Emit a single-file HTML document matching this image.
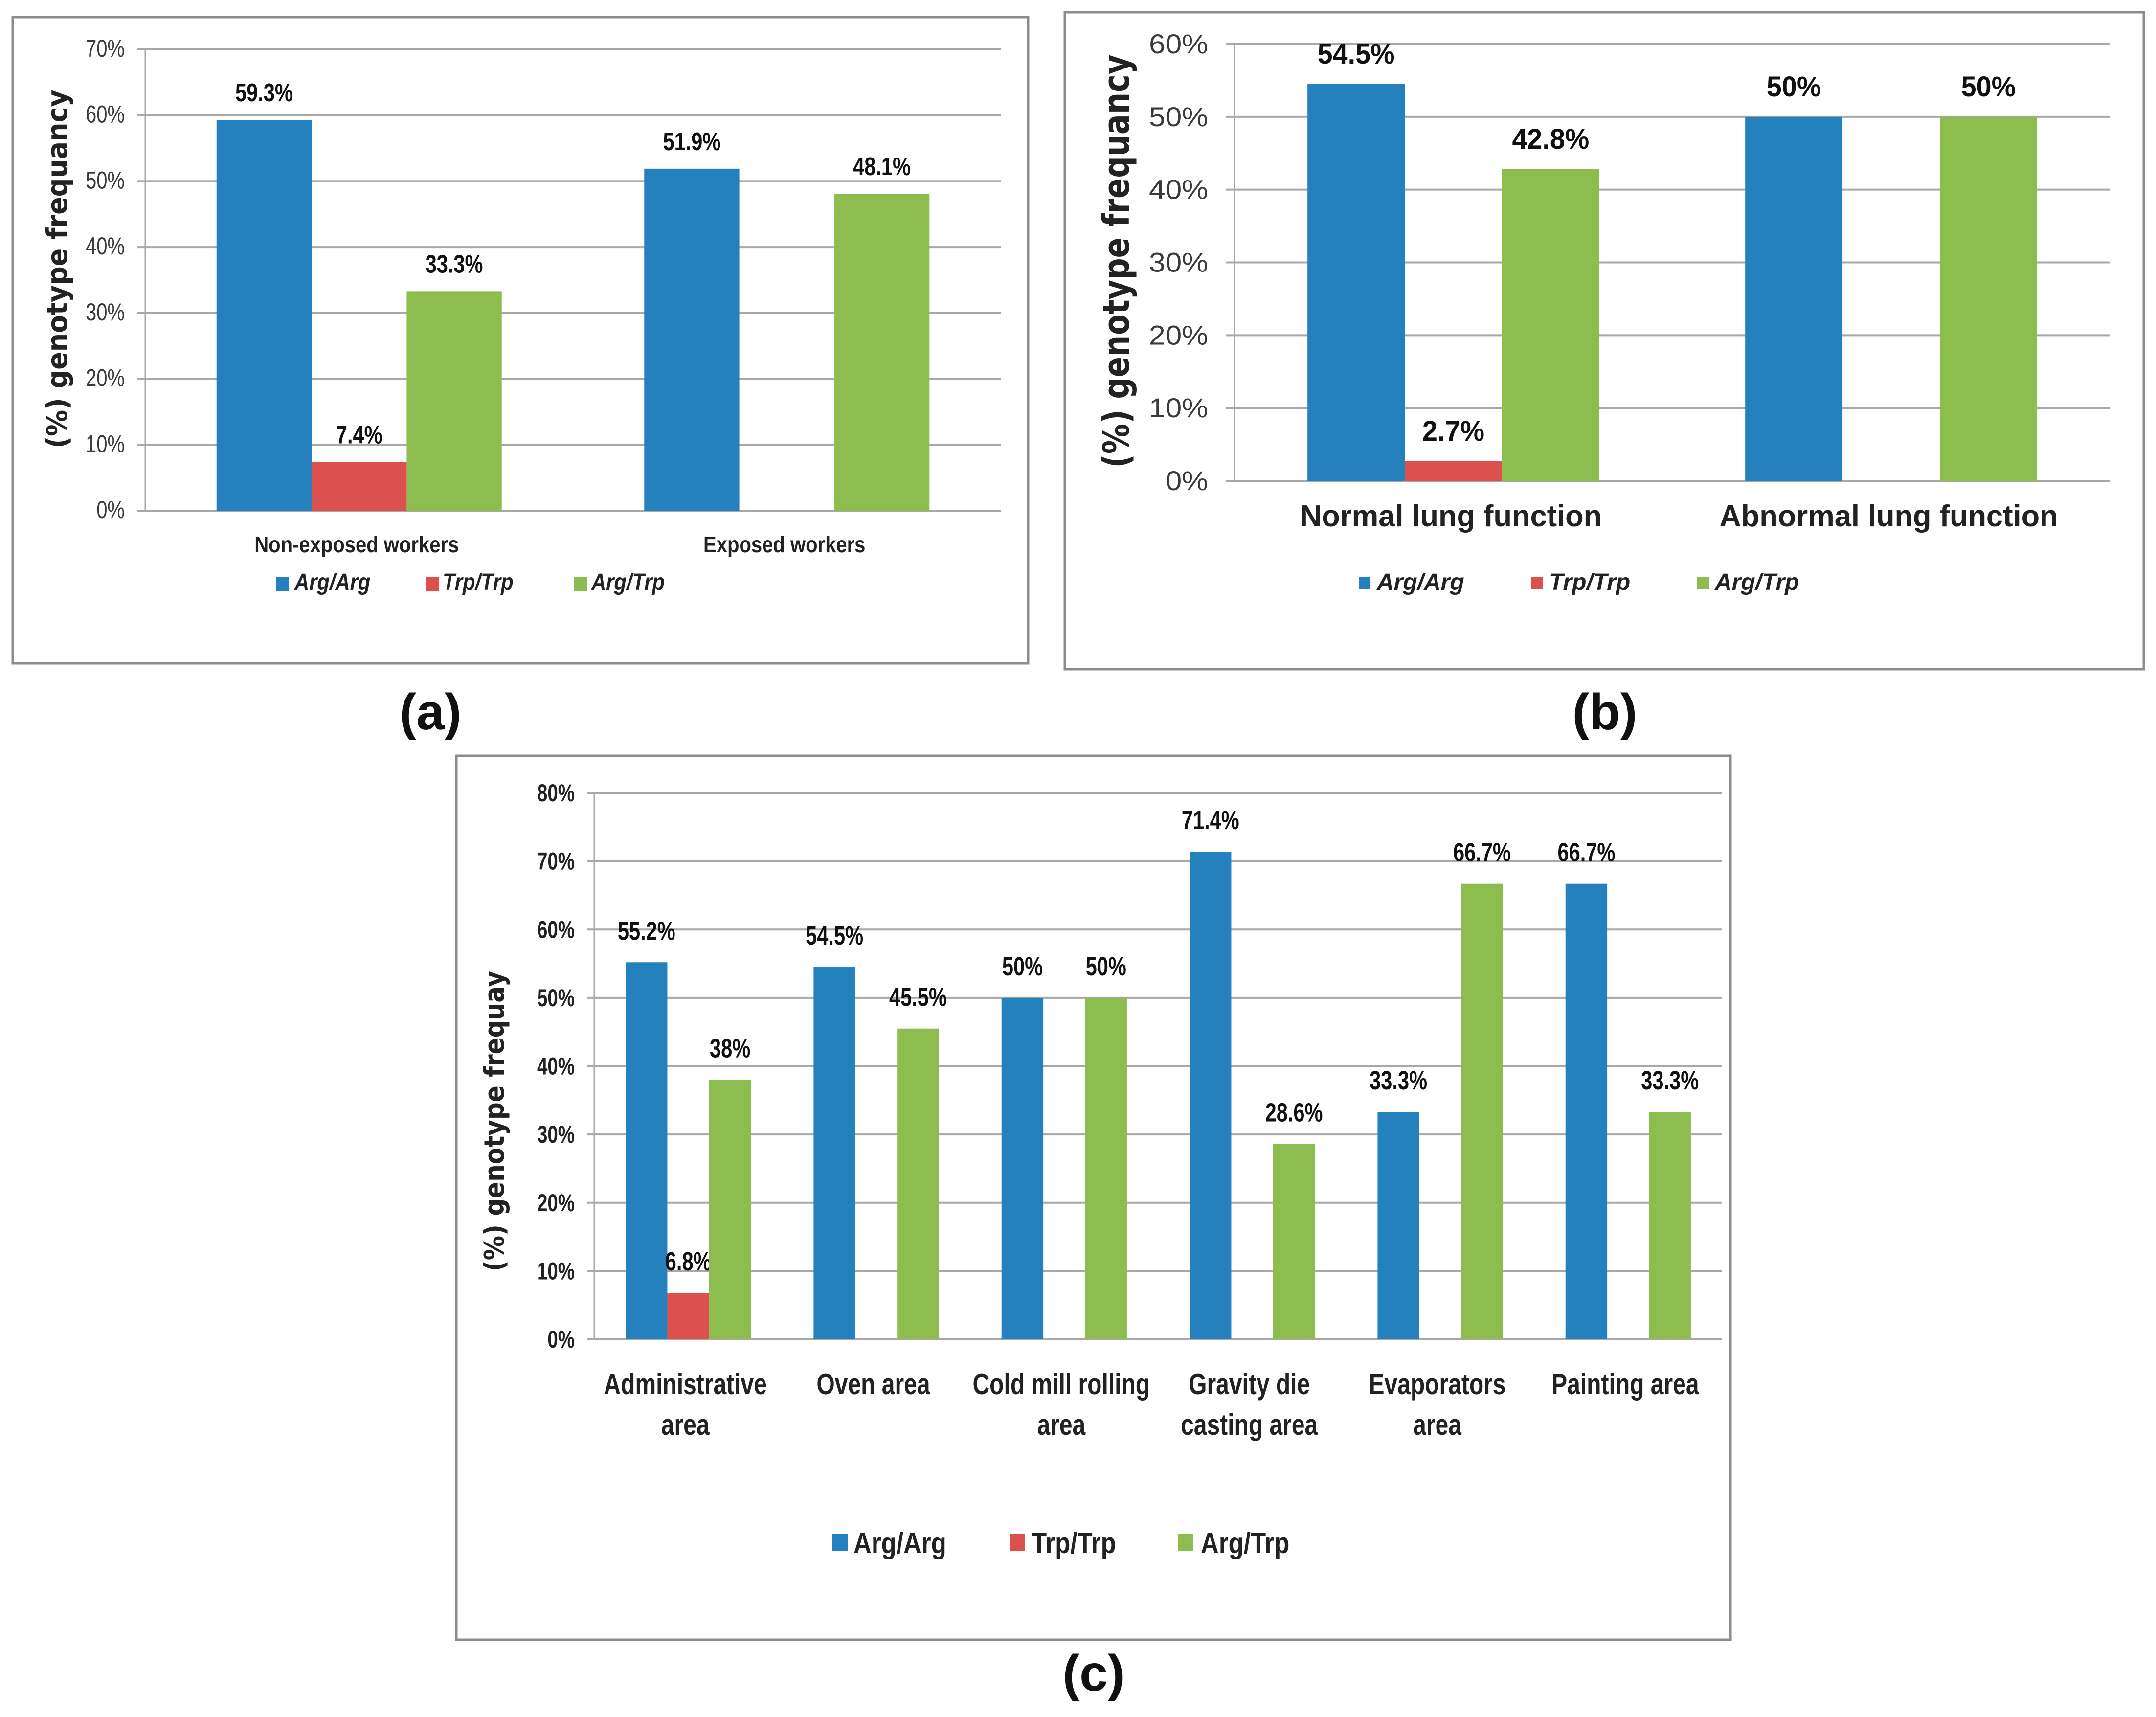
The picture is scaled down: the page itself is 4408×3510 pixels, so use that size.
<!DOCTYPE html>
<html lang="en">
<head>
<meta charset="utf-8">
<title>Genotype frequency charts</title>
<style>
html,body{margin:0;padding:0;background:#fff;}
svg{display:block;font-family:"Liberation Sans",sans-serif;}
</style>
</head>
<body>
<svg id="figure" xmlns="http://www.w3.org/2000/svg" width="4408" height="3510" viewBox="0 0 4408 3510">
  <rect x="0" y="0" width="4408" height="3510" fill="#fff"/>
  <rect x="26" y="35" width="2076" height="1321" fill="#fff" stroke="#8c8c8c" stroke-width="5"/>
  <rect x="2177" y="25" width="2206" height="1343" fill="#fff" stroke="#8c8c8c" stroke-width="5"/>
  <rect x="933" y="1545" width="2605" height="1807" fill="#fff" stroke="#8c8c8c" stroke-width="5"/>
  <g id="panel-a"></g>
  <g id="panel-b"></g>
  <g id="panel-c"></g>
  <text x="880" y="1491" text-anchor="middle" font-size="104" font-weight="700" fill="#111">(a)</text>
  <text x="3281" y="1491" text-anchor="middle" font-size="104" font-weight="700" fill="#111">(b)</text>
  <text x="2236" y="3456" text-anchor="middle" font-size="104" font-weight="700" fill="#111">(c)</text>
</svg>
<script>
const categoriesA = ["Non-exposed workers", "Exposed workers"];
const argArgA = [59.3, 51.9];
const trpTrpA = [7.4, null];
const argTrpA = [33.3, 48.1];
const ticksA = [0, 10, 20, 30, 40, 50, 60, 70];

const categoriesB = ["Normal lung function", "Abnormal lung function"];
const argArgB = [54.5, 50];
const trpTrpB = [2.7, null];
const argTrpB = [42.8, 50];
const ticksB = [0, 10, 20, 30, 40, 50, 60];

const categoriesC = [["Administrative", "area"], ["Oven area"], ["Cold mill rolling", "area"], ["Gravity die", "casting area"], ["Evaporators", "area"], ["Painting area"]];
const argArgC = [55.2, 54.5, 50, 71.4, 33.3, 66.7];
const trpTrpC = [6.8, null, null, null, null, null];
const argTrpC = [38, 45.5, 50, 28.6, 66.7, 33.3];
const ticksC = [0, 10, 20, 30, 40, 50, 60, 70, 80];

const legendNames = ["Arg/Arg", "Trp/Trp", "Arg/Trp"];

const seriesColors = ["#2581bd", "#dc514e", "#8dbc4f"];
const NS = "http://www.w3.org/2000/svg";

function makeEl(parent, tag, attrs) {
  const el = document.createElementNS(NS, tag);
  for (const k in attrs) el.setAttribute(k, attrs[k]);
  parent.appendChild(el);
  return el;
}

function makeText(parent, str, x, y, font) {
  const rot = font.rotate ? " rotate(" + font.rotate + ")" : "";
  const el = makeEl(parent, "text", {
    transform: "translate(" + x + "," + y + ")" + rot + " scale(" + font.sx + ",1)",
    "font-size": font.size,
    "font-weight": font.weight || 400,
    "font-style": font.italic ? "italic" : "normal",
    "font-family": font.family || '"Liberation Sans",sans-serif',
    "text-anchor": font.anchor || "middle",
    fill: font.fill || "#111"
  });
  el.textContent = str;
  return el;
}

function drawPanel(rootId, cats, series, ticks, cfg) {
  const root = document.getElementById(rootId);
  const maxV = ticks[ticks.length - 1];
  const yScale = function (v) { return cfg.y0 - (v / maxV) * (cfg.y0 - cfg.yTop); };
  const catW = (cfg.x1 - cfg.x0) / cats.length;
  const barW = catW / 4.5;
  const xCenter = function (i) { return cfg.x0 + catW * (i + 0.5); };

  ticks.forEach(function (t) {
    const y = yScale(t);
    const grid = makeEl(root, "line", { x1: cfg.tickX, x2: cfg.x1, y1: y, y2: y, stroke: "#a8a8a8", "stroke-width": cfg.gridW });
    
    
    const lab = makeText(root, t + "%", cfg.tickRight, y + cfg.tickDy, cfg.tickFont);
    
    
  });

  const yAxis = makeEl(root, "line", { x1: cfg.x0, x2: cfg.x0, y1: cfg.yTop, y2: cfg.y0, stroke: "#a8a8a8", "stroke-width": 3 });
  
  

  series.forEach(function (vals, s) {
    vals.forEach(function (v, i) {
      if (v === null) return;
      const x = xCenter(i) + (s - 1.5) * barW;
      const top = yScale(v);
      const bar = makeEl(root, "rect", { x: x, y: top, width: barW, height: cfg.y0 - top, fill: seriesColors[s] });
      
      
      const val = makeText(root, v + "%", x + barW / 2, top - cfg.valueDy, cfg.valueFont);
      
      
    });
  });

  cats.forEach(function (c, i) {
    const lines = Array.isArray(c) ? c : [c];
    lines.forEach(function (ln, k) {
      const lab = makeText(root, ln, xCenter(i) + cfg.catDx, cfg.catY + k * cfg.catLine, cfg.catFont);
      
      
    });
  });

  legendNames.forEach(function (name, s) {
    const sw = makeEl(root, "rect", { x: cfg.legendX[s], y: cfg.legendY, width: cfg.swW, height: cfg.swH, fill: seriesColors[s] });
    
    
    const lab = makeText(root, name, cfg.legendTextX[s], cfg.legendBase, cfg.legendFont);
    
    
  });

  const title = makeText(root, cfg.title, cfg.titleX, cfg.titleY, cfg.titleFont);
  
  
}

const dejavu = '"DejaVu Sans",sans-serif';

drawPanel("panel-a", categoriesA, [argArgA, trpTrpA, argTrpA], ticksA, {
  x0: 297, x1: 2046, y0: 1044, yTop: 101, tickX: 281, gridW: 4,
  tickRight: 255, tickDy: 15, tickFont: { size: 50, sx: 0.8, anchor: "end", fill: "#3a3a3a" },
  valueDy: 38, valueFont: { size: 52, sx: 0.8, weight: 700 },
  catDx: -5, catY: 1129, catLine: 0, catFont: { size: 46, sx: 0.87, weight: 700, fill: "#222" },
  legendX: [564, 870, 1174], legendTextX: [602, 905, 1209], legendY: 1180, swW: 27, swH: 28, legendBase: 1206,
  legendFont: { size: 48, sx: 0.87, weight: 700, italic: true, anchor: "start", fill: "#222" },
  title: "(%) genotype frequancy", titleX: 137, titleY: 550,
  titleFont: { size: 58, sx: 0.93, weight: 700, family: dejavu, rotate: -90, fill: "#222" }
});

drawPanel("panel-b", categoriesB, [argArgB, trpTrpB, argTrpB], ticksB, {
  x0: 2524, x1: 4314, y0: 983, yTop: 90, tickX: 2507, gridW: 4,
  tickRight: 2470, tickDy: 19, tickFont: { size: 56, sx: 1.08, anchor: "end", fill: "#3a3a3a" },
  valueDy: 42, valueFont: { size: 58, sx: 0.96, weight: 700 },
  catDx: -5, catY: 1076, catLine: 0, catFont: { size: 62, sx: 0.99, weight: 700, fill: "#222" },
  legendX: [2778, 3131, 3470], legendTextX: [2815, 3167, 3506], legendY: 1180, swW: 24, swH: 24, legendBase: 1206,
  legendFont: { size: 48, sx: 1.0, weight: 700, italic: true, anchor: "start", fill: "#222" },
  title: "(%) genotype frequancy", titleX: 2308, titleY: 534,
  titleFont: { size: 74, sx: 0.84, weight: 700, family: dejavu, rotate: -90, fill: "#222" }
});

drawPanel("panel-c", categoriesC, [argArgC, trpTrpC, argTrpC], ticksC, {
  x0: 1215, x1: 3521, y0: 2738, yTop: 1621, tickX: 1201, gridW: 4,
  tickRight: 1175, tickDy: 17, tickFont: { size: 50, sx: 0.77, weight: 700, anchor: "end", fill: "#222" },
  valueDy: 46, valueFont: { size: 54, sx: 0.77, weight: 700 },
  catDx: -6, catY: 2850, catLine: 83, catFont: { size: 60, sx: 0.8, weight: 700, fill: "#222" },
  legendX: [1702, 2064, 2408], legendTextX: [1745, 2109, 2455], legendY: 3136, swW: 32, swH: 34, legendBase: 3175,
  legendFont: { size: 60, sx: 0.85, weight: 700, anchor: "start", fill: "#222" },
  title: "(%) genotype frequay", titleX: 1030, titleY: 2292,
  titleFont: { size: 56, sx: 0.895, weight: 700, family: dejavu, rotate: -90, fill: "#222" }
});
</script>
</body>
</html>
